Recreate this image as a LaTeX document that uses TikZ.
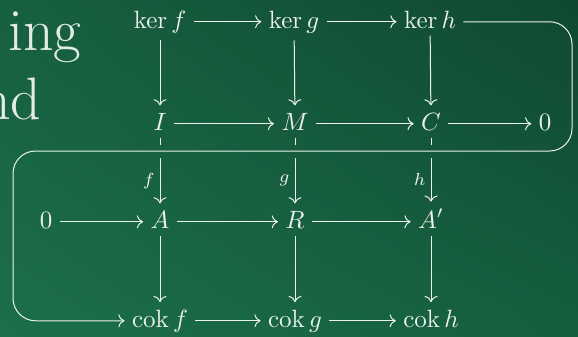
\documentclass[tikz,border=0pt]{standalone}
\usepackage{amsmath}
\usetikzlibrary{arrows.meta,shadings}
\definecolor{bgUL}{HTML}{17603F}
\definecolor{bgUR}{HTML}{104832}
\definecolor{bgLL}{HTML}{1C6F4A}
\definecolor{bgLR}{HTML}{155E3E}
\definecolor{chalk}{HTML}{ECF1EE}
\begin{document}
\begin{tikzpicture}[x=0.4pt,y=-0.4pt,
  obj/.style={anchor=base, inner sep=3pt, outer sep=0pt, text=chalk},
  arr/.style={draw=chalk, line width=0.4pt, -{Computer Modern Rightarrow}},
  seg/.style={draw=chalk, line width=0.4pt},
  lbl/.style={font=\scriptsize, inner sep=2pt, text=chalk},
  title/.style={anchor=base east, inner sep=0pt, text=white, opacity=0.88,
    font=\fontsize{24}{28}\selectfont}]
\useasboundingbox (0,0) rectangle (578,336);
\shade[upper left=bgUL, upper right=bgUR, lower left=bgLL, lower right=bgLR]
  (0,0) rectangle (578,336);
\clip (0,0) rectangle (578,336);
% title fragments
\node[title] (t1) at (82,50) {ing};
\node[title] (t2) at (42,119) {nd};
% objects
\node[obj] (kf) at (160,28) {$\ker f$};
\node[obj] (kg) at (294,28) {$\ker g$};
\node[obj] (kh) at (430,28) {$\ker h$};
\node[obj] (I) at (160,130) {$I$};
\node[obj] (M) at (295,130) {$M$};
\node[obj] (C) at (431,130) {$C$};
\node[obj] (zr) at (545,130) {$0$};
\node[obj] (zl) at (46,228) {$0$};
\node[obj] (A) at (160,228) {$A$};
\node[obj] (R) at (295,228) {$R$};
\node[obj] (Ap) at (431,228) {$A'$};
\node[obj] (cf) at (160,327) {$\operatorname{cok} f$};
\node[obj] (cg) at (295,327) {$\operatorname{cok} g$};
\node[obj] (ch) at (431,327) {$\operatorname{cok} h$};
% gap coordinates
\coordinate (gI1) at (160,145); \coordinate (gI2) at (160,158);
\coordinate (gM1) at (295,145); \coordinate (gM2) at (295,158);
\coordinate (gC1) at (431,145); \coordinate (gC2) at (431,158);
\coordinate (sR) at (572,151); \coordinate (sL) at (13,151);
% horizontal arrows
\draw[arr] ([yshift=2.5pt]kf.base east) -- ([yshift=2.5pt]kg.base west);
\draw[arr] ([yshift=2.5pt]kg.base east) -- ([yshift=2.5pt]kh.base west);
\draw[arr] ([yshift=2.5pt]I.base east) -- ([yshift=2.5pt]M.base west);
\draw[arr] ([yshift=2.5pt]M.base east) -- ([yshift=2.5pt]C.base west);
\draw[arr] ([yshift=2.5pt]C.base east) -- ([yshift=2.5pt]zr.base west);
\draw[arr] ([yshift=2.5pt]zl.base east) -- ([yshift=2.5pt]A.base west);
\draw[arr] ([yshift=2.5pt]A.base east) -- ([yshift=2.5pt]R.base west);
\draw[arr] ([yshift=2.5pt]R.base east) -- ([yshift=2.5pt]Ap.base west);
\draw[arr] ([yshift=2.5pt]cf.base east) -- ([yshift=2.5pt]cg.base west);
\draw[arr] ([yshift=2.5pt]cg.base east) -- ([yshift=2.5pt]ch.base west);
% vertical arrows
\draw[arr] (kf) -- (I);
\draw[arr] (kg) -- (M);
\draw[arr] (kh) -- (C);
\draw[seg] (I) -- (gI1);
\draw[seg] (M) -- (gM1);
\draw[seg] (C) -- (gC1);
\draw[arr] (gI2) -- (A) node[midway, left, lbl] {$f$};
\draw[arr] (gM2) -- (R) node[midway, left, lbl] {$g$};
\draw[arr] (gC2) -- (Ap) node[midway, left, lbl] {$h$};
\draw[arr] (A) -- (cf);
\draw[arr] (R) -- (cg);
\draw[arr] (Ap) -- (ch);
% snake
\draw[arr, rounded corners=9pt] ([yshift=2.5pt]kh.base east) -| (sR) -- (sL) |- ([yshift=2.5pt]cf.base west);
\end{tikzpicture}
\end{document}
